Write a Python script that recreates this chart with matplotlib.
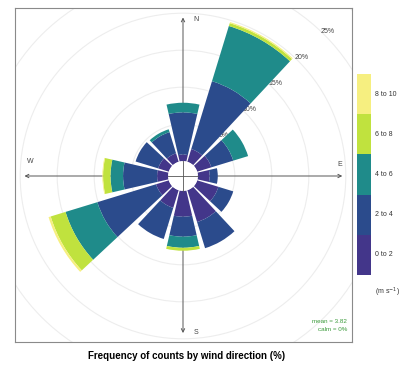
import matplotlib
matplotlib.use("Agg")
import matplotlib.pyplot as plt
from matplotlib.patches import Wedge, Circle, Rectangle
import numpy as np

plt.rcParams["font.family"] = ["Liberation Sans", "DejaVu Sans"]

# ── Data (percent of counts per direction and wind-speed bin) ──────────────
DIRECTIONS = [0, 30, 60, 90, 120, 150, 180, 210, 240, 270, 300, 330]
WS_0_2  = [0.9, 1.8, 2.0, 1.6, 3.0, 4.5, 3.5, 2.5, 1.8, 1.5, 1.5, 1.2]
WS_2_4  = [5.7, 9.6, 3.1, 1.1, 2.1, 3.7, 2.7, 4.4, 8.3, 4.6, 3.2, 3.0]
WS_4_6  = [1.3, 7.8, 2.1, 0.0, 0.0, 0.0, 1.5, 0.0, 4.5, 1.7, 0.0, 0.4]
WS_6_8  = [0.0, 0.4, 0.0, 0.0, 0.0, 0.0, 0.4, 0.0, 2.1, 1.0, 0.0, 0.0]
WS_8_10 = [0.0, 0.15, 0.0, 0.0, 0.0, 0.0, 0.0, 0.0, 0.3, 0.1, 0.0, 0.0]

BIN_LABELS = ["0 to 2", "2 to 4", "4 to 6", "6 to 8", "8 to 10"]
BIN_COLORS = ["#43368a", "#2b4b8c", "#1f8b8a", "#c0e23e", "#f6ef80"]
GRID_PCT   = [5, 10, 15, 20, 25, 30]
MEAN_TXT   = "mean = 3.82"
CALM_TXT   = "calm = 0%"

OFFSET = 2.0      # hole in the middle, in % units
HALF_W = 13.0     # half width of each paddle in degrees
PX = 7.4          # pixels per % unit

W, H = 413, 368
fig = plt.figure(figsize=(W / 100, H / 100), dpi=100)

# panel box in pixels
bx0, bx1, by0, by1 = 15, 352, 8, 342
cx, cy = 183, 176
ax = fig.add_axes([bx0 / W, 1 - by1 / H, (bx1 - bx0) / W, (by1 - by0) / H])
ax.set_xlim((bx0 - cx) / PX, (bx1 - cx) / PX)
ax.set_ylim(-(by1 - cy) / PX, (cy - by0) / PX)
ax.set_xticks([])
ax.set_yticks([])
for sp in ax.spines.values():
    sp.set_color("#8a8a8a")
    sp.set_linewidth(0.8)

# grid circles
for p in GRID_PCT:
    ax.add_patch(Circle((0, 0), OFFSET + p, fill=False, ec="#ededed", lw=0.8, zorder=1))

# axis arrows
arrow_kw = dict(arrowstyle="->", color="#555555", lw=0.7, mutation_scale=6)
for dx, dy in [(0, 21.8), (0, -21.6), (-21.8, 0), (21.9, 0)]:
    ax.annotate("", xy=(dx, dy), xytext=(0, 0), arrowprops=arrow_kw, zorder=2)
for lab, x, y in [("N", 1.76, 21.1), ("S", 1.76, -21.2), ("W", -20.7, 1.9), ("E", 21.2, 1.5)]:
    ax.text(x, y, lab, fontsize=5, color="#444444", ha="center", va="center", zorder=2)

# percentage labels along NE
for p in GRID_PCT[:-1]:
    r = OFFSET + p + 0.7
    ax.text(r * np.cos(np.pi / 4), r * np.sin(np.pi / 4), f"{p}%",
            fontsize=5, color="#444444", ha="center", va="center", zorder=2)

# paddles
bins = [WS_0_2, WS_2_4, WS_4_6, WS_6_8, WS_8_10]
for i, d in enumerate(DIRECTIONS):
    ang = 90 - d
    r0 = OFFSET
    for vals, col in zip(bins, BIN_COLORS):
        v = vals[i]
        if v <= 0:
            continue
        ax.add_patch(Wedge((0, 0), r0 + v, ang - HALF_W, ang + HALF_W, width=v,
                           fc=col, ec="none", zorder=3))
        r0 += v

ax.add_patch(Circle((0, 0), OFFSET, fc="white", ec="none", zorder=4))
ax.plot([-OFFSET, OFFSET], [0, 0], color="#555555", lw=0.6, zorder=5)
ax.plot([0, 0], [-OFFSET, OFFSET], color="#555555", lw=0.6, zorder=5)

ax.text(22.2, -19.6, MEAN_TXT, fontsize=4.5, color="#3a9a3a", ha="right", va="center")
ax.text(22.2, -20.8, CALM_TXT, fontsize=4.5, color="#3a9a3a", ha="right", va="center")

# colour key
kx0, kx1, ky0, ky1 = 357, 371, 74, 275
kax = fig.add_axes([kx0 / W, 1 - ky1 / H, (kx1 - kx0) / W, (ky1 - ky0) / H])
kax.set_xlim(0, 1)
kax.set_ylim(0, len(BIN_LABELS))
kax.axis("off")
for j, (lab, col) in enumerate(zip(BIN_LABELS, BIN_COLORS)):
    kax.add_patch(Rectangle((0, j), 1, 1, fc=col, ec="none"))
    fig.text(375 / W, 1 - (ky1 - (j + 0.5) * (ky1 - ky0) / 5) / H, lab,
             fontsize=5, color="#333333", ha="left", va="center")
fig.text(375 / W, 1 - 292 / H, r"(m s$^{-1}$)", fontsize=5, color="#333333",
         ha="left", va="center")

fig.text(187 / W, 1 - 356 / H, "Frequency of counts by wind direction (%)",
         fontsize=7, fontweight="bold", ha="center", va="center")

fig.savefig("out.png", dpi=100)
